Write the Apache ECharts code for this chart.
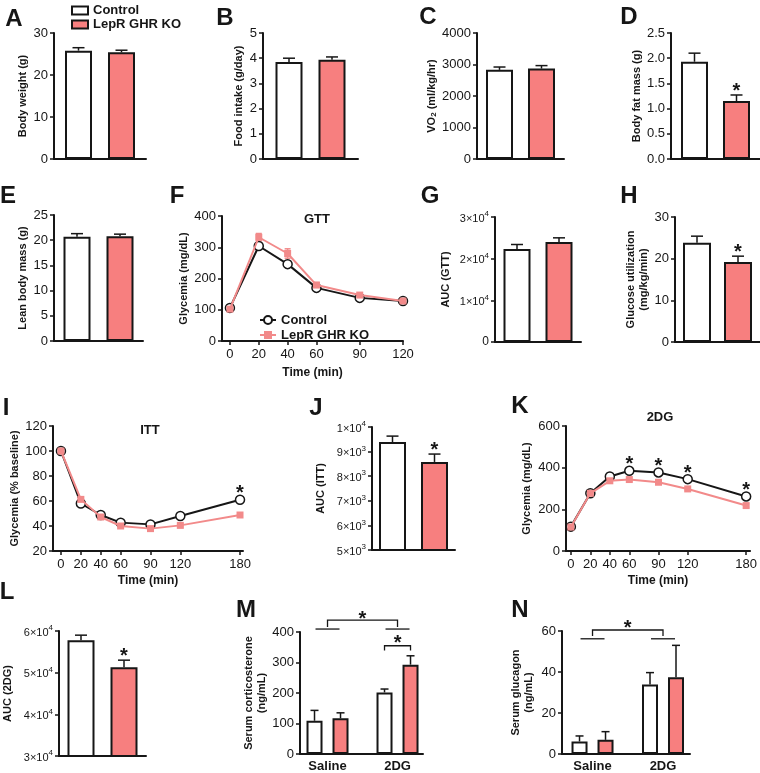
<!DOCTYPE html>
<html><head><meta charset="utf-8">
<script src="https://cdn.jsdelivr.net/npm/echarts@6/dist/echarts.min.js"></script>
<style>html,body{margin:0;padding:0;background:#fff}#c{width:760px;height:773px}</style>
</head><body><div id="c"></div>
<script>
// ---------------- data ----------------
const groups = ['Control', 'LepR GHR KO'];
const treatments = ['Saline', '2DG'];

const bodyWeight = [25.8, 25.4], bodyWeightErr = [0.7, 0.5];
const foodIntake = [3.85, 3.94], foodIntakeErr = [0.15, 0.11];
const vo2 = [2830, 2870], vo2Err = [90, 95];
const fatMass = [1.93, 1.15], fatMassErr = [0.17, 0.12], fatMassStar = [0, 1];
const leanMass = [20.7, 20.8], leanMassErr = [0.6, 0.4];

const gttTime = [0, 20, 40, 60, 90, 120];
const gttControl = [106, 304, 246, 170, 138, 128];
const gttKO = [102, 332, 280, 179, 147, 128];
const gttControlErr = [5, 8, 9, 6, 5, 4];
const gttKOErr = [4, 12, 15, 8, 6, 4];

const aucGtt = [22300, 24000], aucGttErr = [1100, 1000];
const glucoseUtil = [23.8, 19.2], glucoseUtilErr = [1.6, 1.4], glucoseUtilStar = [0, 1];

const ittTime = [0, 20, 40, 60, 90, 120, 180];
const ittControl = [100, 58, 48.8, 42.7, 41.3, 48, 61];
const ittKO = [100, 61.3, 47.2, 40, 37.9, 40.5, 48.8];
const ittControlErr = [0, 1.5, 1.5, 1.2, 1.2, 1.5, 2];
const ittKOErr = [0, 1.5, 1.5, 1.2, 1.2, 1.2, 1.5];
const ittControlStar = [0, 0, 0, 0, 0, 0, 1];

const aucItt = [9390, 8580], aucIttErr = [240, 320], aucIttStar = [0, 1];

const dgTime = [0, 20, 40, 60, 90, 120, 180];
const dgControl = [117, 277, 358, 385, 377, 345, 262];
const dgKO = [115, 277, 337, 343, 330, 298, 218];
const dgControlErr = [6, 8, 8, 8, 8, 8, 8];
const dgKOErr = [6, 8, 8, 8, 8, 8, 8];
const dgControlStar = [0, 0, 0, 1, 1, 1, 1];

const aucDg = [57800, 51300], aucDgErr = [1200, 1700], aucDgStar = [0, 1];

const cortControl = [109, 202], cortControlErr = [34, 11];
const cortKO = [117, 293], cortKOErr = [18, 29];
const glucControl = [6.1, 33.9], glucControlErr = [2.7, 5.8];
const glucKO = [6.9, 37.4], glucKOErr = [4.0, 15.6];

// ---------------- styles ----------------
const FONT = "'Liberation Sans', Arial, Helvetica, sans-serif";
const INK = '#161616';
const KO_FILL = '#F77F7F';
const KO_LINE = '#F28A8A';
const FILLS = ['#ffffff', KO_FILL];
const STAR_FONT = 'bold 20px ' + FONT;

const option = {
  animation: false, backgroundColor: '#fff',
  grid: [], xAxis: [], yAxis: [], series: [], graphic: [], legend: []
};

function axisBase() {
  return {
    axisLine: { show: true, onZero: false, lineStyle: { color: INK, width: 2 } },
    axisTick: { show: true, length: 4, lineStyle: { color: INK, width: 1.5 } },
    axisLabel: { color: INK, fontSize: 13, fontFamily: FONT, margin: 6, formatter: v => String(v) },
    splitLine: { show: false }
  };
}
function addGrid(g) {
  option.grid.push({ left: g[0], top: g[1], width: g[2], height: g[3] });
  return option.grid.length - 1;
}
function sciLabel(v) {
  if (v === 0) return '0';
  const e = Math.floor(Math.log10(v) + 1e-9);
  const m = Math.round(v / Math.pow(10, e));
  return '{m|' + m + '×10}{e|' + e + '}';
}
function yAxisCfg(gi, y) {
  const a = axisBase();
  Object.assign(a, {
    type: 'value', gridIndex: gi, min: y.min, max: y.max, interval: y.interval,
    name: y.name, nameLocation: 'middle', nameGap: y.gap, nameRotate: 90,
    nameTextStyle: { fontSize: 11, fontWeight: 'bold', color: INK, fontFamily: FONT, lineHeight: 13,
      rich: { s: { fontSize: 8, fontWeight: 'bold', color: INK, fontFamily: FONT, verticalAlign: 'bottom', lineHeight: 11 } } }
  });
  if (y.sci) {
    a.axisLabel = { color: INK, fontFamily: FONT, margin: 6, fontSize: 12, formatter: sciLabel,
      rich: { m: { fontSize: 11, color: INK, fontFamily: FONT, lineHeight: 14, verticalAlign: 'bottom' },
              e: { fontSize: 8, color: INK, fontFamily: FONT, verticalAlign: 'top' } } };
  }
  if (y.fmt) a.axisLabel.formatter = y.fmt;
  return a;
}
function starText(x, y) {
  return { type: 'text', x: x, y: y, style: { text: '*', fill: INK, font: STAR_FONT,
    textAlign: 'center', align: 'center', textVerticalAlign: 'middle', verticalAlign: 'middle' } };
}
function barErrRender(barW, gapPx, capW) {
  return function (params, api) {
    const c = api.value(0), v = api.value(1), e = api.value(2), s = api.value(3), st = api.value(4);
    const off = (s === 0 ? -1 : 1) * (barW + gapPx) / 2;
    const p0 = api.coord([c, v]), p1 = api.coord([c, v + e]);
    const x = p0[0] + off;
    const ch = [
      { type: 'line', shape: { x1: x, y1: p0[1], x2: x, y2: p1[1] }, style: { stroke: INK, lineWidth: 1.5 } },
      { type: 'line', shape: { x1: x - capW / 2, y1: p1[1], x2: x + capW / 2, y2: p1[1] }, style: { stroke: INK, lineWidth: 1.5 } }
    ];
    if (st) ch.push(starText(x, p1[1] - 3.5));
    return { type: 'group', children: ch };
  };
}

function barPanel(p) {
  const gi = addGrid(p.grid);
  const xa = axisBase();
  Object.assign(xa, { type: 'category', gridIndex: gi, data: [''], axisTick: { show: false }, axisLabel: { show: false } });
  option.xAxis.push(xa);
  option.yAxis.push(yAxisCfg(gi, p.y));
  const ai = option.xAxis.length - 1;
  groups.forEach((name, i) => {
    option.series.push({ type: 'bar', name: name, xAxisIndex: ai, yAxisIndex: ai, data: [p.values[i]],
      barWidth: p.barW, barGap: (p.gap / p.barW * 100) + '%', silent: true,
      itemStyle: { color: FILLS[i], borderColor: INK, borderWidth: 2 } });
  });
  option.series.push({ type: 'custom', xAxisIndex: ai, yAxisIndex: ai, z: 5, silent: true,
    renderItem: barErrRender(p.barW, p.gap, p.cap),
    data: groups.map((_, i) => [0, p.values[i], p.errs[i], i, p.stars ? p.stars[i] : 0]) });
}

function groupedPanel(p) {
  const gi = addGrid(p.grid);
  const xa = axisBase();
  Object.assign(xa, { type: 'value', gridIndex: gi, min: p.xmin, max: p.xmax,
    axisTick: { show: false },
    axisLabel: { show: true, customValues: [1, 2], formatter: v => treatments[Math.round(v) - 1] || '',
      color: INK, fontSize: 13, fontWeight: 'bold', fontFamily: FONT, margin: 6 } });
  option.xAxis.push(xa);
  option.yAxis.push(yAxisCfg(gi, p.y));
  const ai = option.xAxis.length - 1;
  const vals = [p.ctl, p.ko], errs = [p.ctlErr, p.koErr];
  groups.forEach((name, i) => {
    option.series.push({ type: 'bar', name: name, xAxisIndex: ai, yAxisIndex: ai,
      data: treatments.map((t, g) => [g + 1, vals[i][g]]),
      barWidth: p.barW, barGap: (p.gap / p.barW * 100) + '%', silent: true,
      itemStyle: { color: FILLS[i], borderColor: INK, borderWidth: 2 } });
  });
  const ed = [];
  treatments.forEach((t, g) => groups.forEach((n, s) => ed.push([g + 1, vals[s][g], errs[s][g], s, 0])));
  option.series.push({ type: 'custom', xAxisIndex: ai, yAxisIndex: ai, z: 5, silent: true,
    renderItem: barErrRender(p.barW, p.gap, p.cap), data: ed });
  // significance brackets
  const b = p.br;
  option.series.push({ type: 'custom', xAxisIndex: ai, yAxisIndex: ai, z: 5, silent: true, clip: false,
    data: [[1, 0]],
    renderItem: function (params, api) {
      const st = { stroke: INK, lineWidth: 1.3 };
      const x1 = api.coord([1, 0])[0], x2 = api.coord([2, 0])[0];
      const yMain = api.coord([1, b.main])[1], yDrop = api.coord([1, b.drop])[1], yGrp = api.coord([1, b.group])[1];
      const ch = [
        { type: 'polyline', shape: { points: [[x1, yDrop], [x1, yMain], [x2, yMain], [x2, yDrop]] }, style: Object.assign({ fill: null }, st) },
        { type: 'line', shape: { x1: x1 - 12, y1: yGrp, x2: x1 + 12, y2: yGrp }, style: st },
        { type: 'line', shape: { x1: x2 - 12, y1: yGrp, x2: x2 + 12, y2: yGrp }, style: st },
        starText((x1 + x2) / 2, yMain - 1)
      ];
      if (b.pair) {
        const off = (p.barW + p.gap) / 2;
        const yP = api.coord([2, b.pair])[1], yPD = api.coord([2, b.pairDrop])[1];
        ch.push({ type: 'polyline', shape: { points: [[x2 - off, yPD], [x2 - off, yP], [x2 + off, yP], [x2 + off, yPD]] }, style: Object.assign({ fill: null }, st) });
        ch.push(starText(x2, yP - 2));
      }
      return { type: 'group', children: ch };
    } });
}

function linePanel(p) {
  const gi = addGrid(p.grid);
  const xa = axisBase();
  Object.assign(xa, { type: 'value', gridIndex: gi, min: p.xmin, max: p.xmax,
    axisTick: { show: true, length: 4, lineStyle: { color: INK, width: 1.5 }, customValues: p.time },
    axisLabel: { color: INK, fontSize: 13, fontFamily: FONT, margin: 7, customValues: p.time },
    name: 'Time (min)', nameLocation: 'middle', nameGap: p.xgap,
    nameTextStyle: { fontSize: 12, fontWeight: 'bold', color: INK, fontFamily: FONT } });
  option.xAxis.push(xa);
  option.yAxis.push(yAxisCfg(gi, p.y));
  const ai = option.xAxis.length - 1;
  const vals = [p.ctl, p.ko], errs = [p.ctlErr, p.koErr], cols = [INK, KO_LINE];
  const ed = [];
  groups.forEach((n, s) => p.time.forEach((t, i) => ed.push([t, vals[s][i], errs[s][i], s])));
  option.series.push({ type: 'custom', xAxisIndex: ai, yAxisIndex: ai, z: 1, silent: true, data: ed,
    renderItem: function (params, api) {
      const t = api.value(0), v = api.value(1), e = api.value(2), s = api.value(3);
      const a = api.coord([t, v - e]), b = api.coord([t, v + e]);
      const st = { stroke: cols[s], lineWidth: 1.5 };
      return { type: 'group', children: [
        { type: 'line', shape: { x1: a[0], y1: a[1], x2: b[0], y2: b[1] }, style: st },
        { type: 'line', shape: { x1: b[0] - 3, y1: b[1], x2: b[0] + 3, y2: b[1] }, style: st },
        { type: 'line', shape: { x1: a[0] - 3, y1: a[1], x2: a[0] + 3, y2: a[1] }, style: st }
      ] };
    } });
  option.series.push({ type: 'line', name: 'Control (' + p.tag + ')', xAxisIndex: ai, yAxisIndex: ai, z: 3, silent: true,
    data: p.time.map((t, i) => [t, p.ctl[i]]), symbol: 'circle', symbolSize: 9,
    itemStyle: { color: '#fff', borderColor: INK, borderWidth: 1.5 }, lineStyle: { color: INK, width: 2 } });
  option.series.push({ type: 'line', name: 'LepR GHR KO (' + p.tag + ')', xAxisIndex: ai, yAxisIndex: ai, z: 4, silent: true,
    data: p.time.map((t, i) => [t, p.ko[i]]), symbol: 'rect', symbolSize: 7,
    itemStyle: { color: KO_LINE, borderColor: KO_LINE, borderWidth: 0 }, lineStyle: { color: KO_LINE, width: 2 } });
  if (p.stars) {
    option.series.push({ type: 'custom', xAxisIndex: ai, yAxisIndex: ai, z: 6, silent: true, clip: false,
      data: p.time.map((t, i) => [t, p.ctl[i], p.stars[i]]).filter(d => d[2]),
      renderItem: function (params, api) {
        const c = api.coord([api.value(0), api.value(1)]);
        return starText(c[0], c[1] - 6);
      } });
  }
  option.graphic.push({ type: 'text', x: p.title[1], y: p.title[2], z: 10,
    style: { text: p.title[0], fill: INK, font: 'bold 13px ' + FONT, textAlign: 'center', align: 'center', textVerticalAlign: 'middle', verticalAlign: 'middle' } });
}

// ---------------- panels ----------------
barPanel({ grid: [54, 33, 92, 126], y: { min: 0, max: 30, interval: 10, name: 'Body weight (g)', gap: 21 },
  values: bodyWeight, errs: bodyWeightErr, barW: 27, gap: 16, cap: 12 });
barPanel({ grid: [263, 33, 95, 126], y: { min: 0, max: 5, interval: 1, name: 'Food intake (g/day)', gap: 15 },
  values: foodIntake, errs: foodIntakeErr, barW: 27, gap: 16, cap: 12 });
barPanel({ grid: [477, 33, 87, 126], y: { min: 0, max: 4000, interval: 1000, name: 'VO{s|2} (ml/kg/hr)', gap: 34 },
  values: vo2, errs: vo2Err, barW: 27, gap: 15, cap: 12 });
barPanel({ grid: [671, 33, 89, 126], y: { min: 0, max: 2.5, interval: 0.5, name: 'Body fat mass (g)', gap: 24, fmt: v => v.toFixed(1) },
  values: fatMass, errs: fatMassErr, stars: fatMassStar, barW: 27, gap: 15, cap: 12 });
barPanel({ grid: [54, 215, 89, 126], y: { min: 0, max: 25, interval: 5, name: 'Lean body mass (g)', gap: 21 },
  values: leanMass, errs: leanMassErr, barW: 27, gap: 16, cap: 12 });
linePanel({ grid: [222, 216, 181, 125], xmin: -5.5, xmax: 120, time: gttTime, xgap: 26, tag: 'GTT',
  y: { min: 0, max: 400, interval: 100, name: 'Glycemia (mg/dL)', gap: 32 },
  ctl: gttControl, ko: gttKO, ctlErr: gttControlErr, koErr: gttKOErr, title: ['GTT', 317, 219] });
barPanel({ grid: [495, 217, 86, 125], y: { min: 0, max: 30000, interval: 10000, name: 'AUC (GTT)', gap: 43, sci: true },
  values: aucGtt, errs: aucGttErr, barW: 27, gap: 15, cap: 12 });
barPanel({ grid: [675, 217, 85, 125], y: { min: 0, max: 30, interval: 10, name: 'Glucose utilization\n(mg/kg/min)', gap: 23 },
  values: glucoseUtil, errs: glucoseUtilErr, stars: glucoseUtilStar, barW: 28, gap: 13, cap: 12 });
linePanel({ grid: [53, 426, 190, 125], xmin: -8, xmax: 183, time: ittTime, xgap: 24, tag: 'ITT',
  y: { min: 20, max: 120, interval: 20, name: 'Glycemia (% baseline)', gap: 20 },
  ctl: ittControl, ko: ittKO, ctlErr: ittControlErr, koErr: ittKOErr, stars: ittControlStar, title: ['ITT', 150, 430] });
barPanel({ grid: [372, 427, 83, 123], y: { min: 5000, max: 10000, interval: 1000, name: 'AUC (ITT)', gap: 45, sci: true },
  values: aucItt, errs: aucIttErr, stars: aucIttStar, barW: 27, gap: 15, cap: 12 });
linePanel({ grid: [566, 426, 186, 125], xmin: -5, xmax: 184, time: dgTime, xgap: 24, tag: '2DG',
  y: { min: 0, max: 600, interval: 200, name: 'Glycemia (mg/dL)', gap: 33 },
  ctl: dgControl, ko: dgKO, ctlErr: dgControlErr, koErr: dgKOErr, stars: dgControlStar, title: ['2DG', 660, 417] });
barPanel({ grid: [54, 631, 92, 125], y: { min: 30000, max: 60000, interval: 10000, name: 'AUC (2DG)', gap: 45, sci: true },
  values: aucDg, errs: aucDgErr, stars: aucDgStar, barW: 27, gap: 16, cap: 12 });
groupedPanel({ grid: [300, 632, 123, 124], xmin: 0.607, xmax: 2.364,
  y: { min: 0, max: 400, interval: 100, name: 'Serum corticosterone\n(ng/mL)', gap: 32 },
  ctl: cortControl, ko: cortKO, ctlErr: cortControlErr, koErr: cortKOErr, barW: 16, gap: 10, cap: 8,
  br: { main: 439, drop: 416, group: 409.7, pair: 355, pairDrop: 339 } });
groupedPanel({ grid: [562, 631, 128, 125], xmin: 0.567, xmax: 2.383,
  y: { min: 0, max: 60, interval: 20, name: 'Serum glucagon\n(ng/mL)', gap: 27 },
  ctl: glucControl, ko: glucKO, ctlErr: glucControlErr, koErr: glucKOErr, barW: 16, gap: 10, cap: 8,
  br: { main: 60.5, drop: 57.6, group: 56.2 } });

// ---------------- panel letters ----------------
const letters = [['A', 14, 19], ['B', 225, 18], ['C', 428, 17], ['D', 629, 17],
  ['E', 8, 196], ['F', 177, 196], ['G', 430, 196], ['H', 629, 196],
  ['I', 6, 408], ['J', 316, 408], ['K', 520, 406],
  ['L', 7, 592], ['M', 246, 610], ['N', 520, 610]];
letters.forEach(l => option.graphic.push({ type: 'text', x: l[1], y: l[2], z: 10,
  style: { text: l[0], fill: INK, font: 'bold 24px ' + FONT, textAlign: 'center', align: 'center', textVerticalAlign: 'middle', verticalAlign: 'middle' } }));

// ---------------- legends ----------------
option.legend.push({ orient: 'vertical', left: 66, top: -1, itemWidth: 16, itemHeight: 8, itemGap: 1, selectedMode: false,
  icon: 'rect',
  textStyle: { fontSize: 13, fontWeight: 'bold', color: INK, fontFamily: FONT, lineHeight: 13 },
  data: [{ name: 'Control', itemStyle: { color: '#fff', borderColor: INK, borderWidth: 2 } },
         { name: 'LepR GHR KO', itemStyle: { color: KO_FILL, borderColor: INK, borderWidth: 2 } }] });
option.legend.push({ orient: 'vertical', left: 254, top: 308, itemWidth: 16, itemHeight: 10, itemGap: 1, selectedMode: false,
  textStyle: { fontSize: 13, fontWeight: 'bold', color: INK, fontFamily: FONT, lineHeight: 14 },
  formatter: n => n.replace(' (GTT)', ''),
  data: ['Control (GTT)', 'LepR GHR KO (GTT)'] });

const chart = echarts.init(document.getElementById('c'), null, { renderer: 'canvas' });
chart.setOption(option);
</script></body></html>
